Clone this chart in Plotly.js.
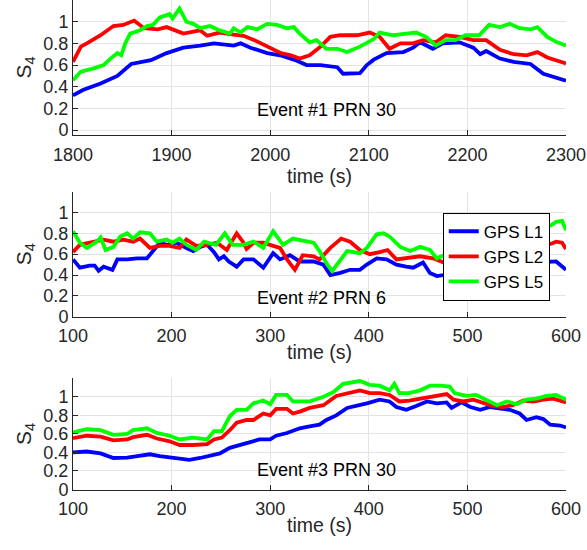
<!DOCTYPE html>
<html>
<head>
<meta charset="utf-8">
<script src="https://cdn.plot.ly/plotly-3.0.1.min.js"></script>
<style>html,body{margin:0;padding:0;background:#fff;}#chart{width:587px;height:550px;}</style>
</head>
<body>
<div id="chart"></div>
<script>
// ---- Data ----
var seriesNames = ['GPS L1', 'GPS L2', 'GPS L5'];
var eventLabels = ['Event #1 PRN 30', 'Event #2 PRN 6', 'Event #3 PRN 30'];
var xTickVals1 = [1800, 1900, 2000, 2100, 2200, 2300];
var xTickVals23 = [100, 200, 300, 400, 500, 600];
var yTickVals = [0, 0.2, 0.4, 0.6, 0.8, 1];
var yTickText = ['0', '0.2', '0.4', '0.6', '0.8', '1'];

// Event #1
var e1_L1_t = [1800,1810,1828,1845,1859,1879,1895,1912,1929,1943,1963,1970,1980,1997,2010,2027,2037,2051,2068,2074,2091,2098,2105,2118,2135,2145,2152,2165,2175,2192,2206,2213,2219,2233,2247,2264,2277,2287,2300];
var e1_L1_s = [0.32,0.37,0.43,0.50,0.61,0.645,0.71,0.76,0.78,0.80,0.78,0.80,0.76,0.71,0.69,0.64,0.60,0.60,0.58,0.52,0.525,0.60,0.65,0.71,0.72,0.76,0.81,0.75,0.80,0.81,0.76,0.70,0.73,0.66,0.63,0.61,0.52,0.49,0.455];
var e1_L2_t = [1800,1808,1814,1828,1841,1851,1862,1872,1886,1895,1912,1929,1936,1949,1963,1973,1984,1997,2011,2021,2030,2040,2051,2061,2071,2088,2101,2111,2121,2132,2145,2155,2168,2178,2192,2206,2219,2233,2247,2260,2271,2281,2291,2300];
var e1_L2_s = [0.63,0.77,0.80,0.875,0.96,0.97,1.01,0.94,0.93,0.95,0.89,0.92,0.87,0.90,0.88,0.87,0.83,0.77,0.71,0.69,0.66,0.69,0.77,0.86,0.875,0.875,0.90,0.86,0.75,0.80,0.80,0.83,0.81,0.875,0.86,0.83,0.83,0.74,0.70,0.69,0.72,0.67,0.645,0.615];
var e1_L5_t = [1800,1808,1821,1831,1838,1845,1849,1853,1858,1868,1875,1881,1888,1898,1901,1908,1915,1922,1929,1939,1949,1959,1963,1970,1977,1987,1997,2007,2017,2024,2030,2040,2047,2057,2068,2078,2091,2105,2111,2125,2138,2148,2158,2168,2178,2188,2198,2212,2222,2233,2243,2253,2264,2271,2281,2291,2300];
var e1_L5_s = [0.46,0.54,0.57,0.60,0.66,0.71,0.69,0.80,0.89,0.92,0.96,0.97,1.04,1.07,1.03,1.12,1.00,0.98,0.94,0.96,0.92,0.89,0.94,0.90,0.95,0.93,0.98,0.97,0.94,0.95,0.89,0.81,0.83,0.75,0.75,0.72,0.77,0.84,0.90,0.875,0.89,0.90,0.86,0.78,0.83,0.83,0.875,0.875,0.97,0.95,0.98,0.94,0.93,0.95,0.86,0.81,0.78];

// Event #2
var e2_L1_t = [100,107,117,122,126,131,140,145,155,165,175,182,188,195,205,215,222,229,236,243,248,253,258,266,273,283,293,303,310,320,330,344,354,361,371,381,391,398,408,418,428,438,445,455,462,469,476,490,510,530,550,570,585,590,600];
var e2_L1_s = [0.55,0.47,0.49,0.49,0.44,0.48,0.45,0.55,0.55,0.56,0.56,0.64,0.71,0.69,0.71,0.66,0.63,0.67,0.69,0.62,0.55,0.58,0.53,0.48,0.55,0.55,0.47,0.61,0.55,0.59,0.53,0.53,0.50,0.40,0.42,0.45,0.45,0.50,0.56,0.55,0.50,0.48,0.47,0.52,0.42,0.39,0.40,0.42,0.45,0.48,0.50,0.52,0.53,0.53,0.45];
var e2_L2_t = [100,107,117,131,141,151,161,168,178,188,198,208,215,225,236,246,256,266,273,276,283,293,303,310,317,325,333,344,350,361,372,381,391,401,411,419,428,438,452,465,476,500,530,560,585,590,596,600];
var e2_L2_s = [0.62,0.69,0.71,0.74,0.72,0.74,0.72,0.75,0.66,0.68,0.68,0.66,0.74,0.68,0.69,0.71,0.64,0.80,0.71,0.65,0.71,0.71,0.68,0.66,0.55,0.45,0.59,0.58,0.55,0.66,0.75,0.72,0.64,0.60,0.62,0.64,0.55,0.56,0.58,0.56,0.52,0.55,0.60,0.65,0.70,0.72,0.71,0.65];
var e2_L5_t = [100,107,114,124,128,133,141,148,155,161,168,178,185,195,201,208,215,225,233,238,245,254,262,273,283,293,303,313,323,333,344,350,358,363,372,378,391,398,408,415,421,432,442,452,462,469,476,500,530,560,585,590,596,600];
var e2_L5_s = [0.82,0.71,0.66,0.72,0.76,0.64,0.67,0.77,0.80,0.75,0.81,0.80,0.72,0.74,0.71,0.75,0.69,0.64,0.72,0.71,0.69,0.80,0.69,0.69,0.72,0.66,0.82,0.69,0.75,0.73,0.71,0.63,0.50,0.44,0.56,0.63,0.61,0.66,0.79,0.80,0.77,0.67,0.63,0.67,0.64,0.56,0.59,0.62,0.68,0.75,0.88,0.91,0.92,0.83];

// Event #3
var e3_L1_t = [100,114,128,141,155,168,178,188,198,208,218,229,239,249,259,269,279,289,300,306,317,330,340,350,357,367,378,388,398,411,421,428,438,448,459,469,479,484,494,503,513,523,533,543,553,560,570,577,584,594,600];
var e3_L1_s = [0.40,0.41,0.39,0.34,0.345,0.37,0.38,0.36,0.345,0.33,0.32,0.34,0.36,0.39,0.45,0.48,0.50,0.54,0.54,0.58,0.61,0.66,0.68,0.70,0.75,0.80,0.88,0.90,0.93,0.97,0.95,0.89,0.86,0.90,0.95,0.93,0.94,0.88,0.94,0.89,0.86,0.89,0.88,0.86,0.82,0.75,0.78,0.76,0.70,0.69,0.67];
var e3_L2_t = [100,114,128,141,155,161,175,185,198,208,222,236,243,251,259,266,276,283,293,300,306,317,323,330,340,354,367,378,391,401,411,421,431,441,452,462,472,479,486,496,506,516,526,536,546,557,567,577,587,600];
var e3_L2_s = [0.555,0.58,0.57,0.53,0.54,0.565,0.59,0.55,0.52,0.48,0.48,0.49,0.54,0.56,0.64,0.72,0.75,0.75,0.82,0.80,0.87,0.87,0.82,0.84,0.88,0.91,1.01,1.04,1.07,1.04,1.04,1.02,0.95,0.96,0.98,1.00,1.02,1.03,0.97,0.95,0.97,0.93,0.90,0.89,0.91,0.96,0.95,0.97,0.98,0.94];
var e3_L5_t = [100,114,128,141,155,161,175,185,198,208,222,236,243,251,259,266,276,283,293,300,306,317,323,330,340,354,364,374,384,391,401,411,421,426,431,441,452,462,472,482,487,499,509,519,530,540,550,560,570,580,590,600];
var e3_L5_s = [0.615,0.65,0.64,0.59,0.60,0.64,0.66,0.61,0.58,0.54,0.56,0.54,0.63,0.63,0.79,0.86,0.86,0.93,0.96,0.92,1.02,1.02,0.95,0.95,0.95,1.00,1.05,1.14,1.16,1.17,1.13,1.12,1.07,1.14,1.04,1.04,1.07,1.12,1.12,1.11,1.04,1.01,1.02,0.97,0.91,0.95,0.92,0.97,0.98,1.01,1.02,0.97];

// ---- Styling ----
var colors = ['#0000ff', '#ff0000', '#00ff00'];
var FONT = '"Liberation Sans", Arial, Helvetica, sans-serif';
var TXT = '#262626';

var panels = [
  {x: [e1_L1_t, e1_L2_t, e1_L5_t], y: [e1_L1_s, e1_L2_s, e1_L5_s], xa: 'x', ya: 'y'},
  {x: [e2_L1_t, e2_L2_t, e2_L5_t], y: [e2_L1_s, e2_L2_s, e2_L5_s], xa: 'x2', ya: 'y2'},
  {x: [e3_L1_t, e3_L2_t, e3_L5_t], y: [e3_L1_s, e3_L2_s, e3_L5_s], xa: 'x3', ya: 'y3'}
];

var traces = [];
panels.forEach(function (p, pi) {
  for (var k = 0; k < 3; k++) {
    traces.push({
      type: 'scatter', mode: 'lines',
      x: p.x[k], y: p.y[k],
      xaxis: p.xa, yaxis: p.ya,
      name: seriesNames[k],
      showlegend: pi === 1,
      line: {color: colors[k], width: 3.8},
      hoverinfo: 'skip'
    });
  }
});

function xaxis(range, ticks, domainAnchor) {
  return {
    range: range, tickvals: ticks, ticktext: ticks.map(String),
    anchor: domainAnchor, domain: [0, 1],
    showline: true, linecolor: TXT, linewidth: 1, mirror: false,
    ticks: 'inside', ticklen: 5, tickcolor: TXT, tickwidth: 1,
    ticklabelstandoff: 3,
    showgrid: true, gridcolor: '#e3e3e3', gridwidth: 1, zeroline: false,
    tickfont: {family: FONT, size: 18, color: TXT},
    title: {text: 'time (s)', font: {family: FONT, size: 19.5, color: TXT}, standoff: 0},
    automargin: false
  };
}
function yaxis(range, domain, anchor) {
  return {
    range: range, domain: domain, anchor: anchor,
    tickvals: yTickVals, ticktext: yTickText,
    showline: true, linecolor: TXT, linewidth: 1, mirror: false,
    ticks: 'inside', ticklen: 5, tickcolor: TXT, tickwidth: 1,
    showgrid: true, gridcolor: '#e3e3e3', gridwidth: 1, zeroline: false,
    tickfont: {family: FONT, size: 18, color: TXT},
    title: {text: 'S<sub>4</sub>', font: {family: FONT, size: 21, color: TXT}, standoff: 6},
    automargin: false
  };
}

var layout = {
  width: 587, height: 550,
  margin: {l: 73, r: 21, t: 0, b: 0, pad: 0},
  paper_bgcolor: '#ffffff', plot_bgcolor: '#ffffff',
  showlegend: true,
  legend: {
    x: 0.75, y: 0.5333, xanchor: 'left', yanchor: 'middle',
    xref: 'paper', yref: 'paper',
    bgcolor: '#ffffff', bordercolor: '#000000', borderwidth: 1,
    font: {family: FONT, size: 17, color: '#000000'},
    tracegroupgap: 0, itemwidth: 30
  },
  xaxis: xaxis([1800, 2300], xTickVals1, 'y'),
  yaxis: yaxis([-0.045, 1.2], [0.7545, 1], 'x'),
  xaxis2: xaxis([100, 600], xTickVals23, 'y2'),
  yaxis2: yaxis([0, 1.2], [0.4242, 0.6515], 'x2'),
  xaxis3: xaxis([100, 600], xTickVals23, 'y3'),
  yaxis3: yaxis([0, 1.2], [0.1100, 0.3122], 'x3'),
  annotations: [
    {xref: 'x', yref: 'y', x: 1984.5, y: 0.19, text: eventLabels[0], showarrow: false, xanchor: 'left', yanchor: 'middle', font: {family: FONT, size: 18, color: '#000000'}},
    {xref: 'x2', yref: 'y2', x: 284.5, y: 0.18, text: eventLabels[1], showarrow: false, xanchor: 'left', yanchor: 'middle', font: {family: FONT, size: 18, color: '#000000'}},
    {xref: 'x3', yref: 'y3', x: 284.5, y: 0.215, text: eventLabels[2], showarrow: false, xanchor: 'left', yanchor: 'middle', font: {family: FONT, size: 18, color: '#000000'}}
  ]
};

Plotly.newPlot('chart', traces, layout, {displayModeBar: false, staticPlot: true});
</script>
</body>
</html>
